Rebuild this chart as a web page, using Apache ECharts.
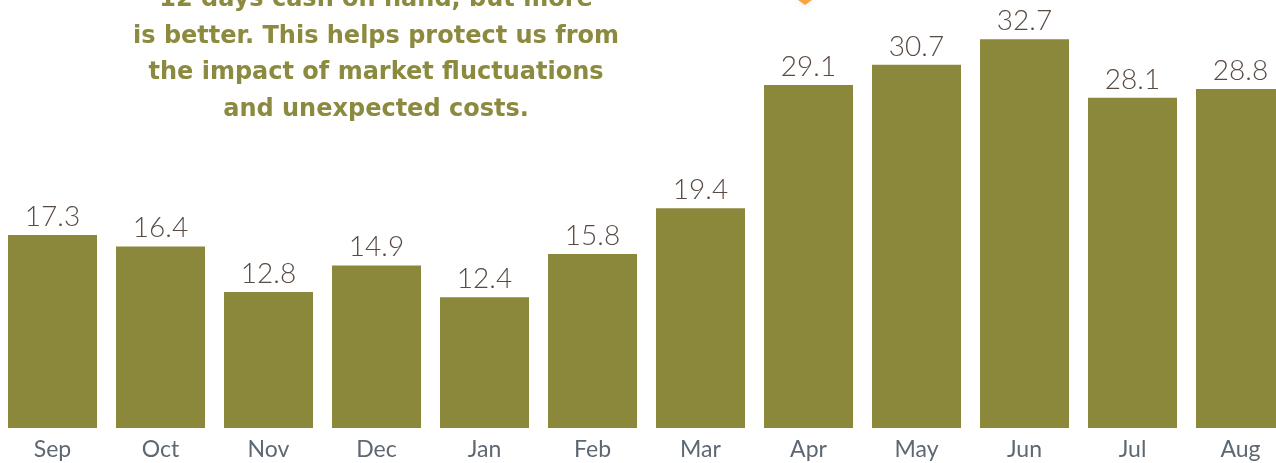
<!DOCTYPE html>
<html>
<head>
<meta charset="utf-8">
<script src="https://cdn.jsdelivr.net/npm/echarts@6/dist/echarts.min.js"></script>
<style>
html,body{margin:0;padding:0;background:#fff;}
#chart{width:1276px;height:463px;}
</style>
</head>
<body>
<div id="chart"></div>
<script>
const months = ['Sep','Oct','Nov','Dec','Jan','Feb','Mar','Apr','May','Jun','Jul','Aug'];
const daysCash = [17.3,16.4,12.8,14.9,12.4,15.8,19.4,29.1,30.7,32.7,28.1,28.8];
const noteLines = [
  '12 days cash on hand, but more',
  'is better. This helps protect us from',
  'the impact of market fluctuations',
  'and unexpected costs.'
];

const chart = echarts.init(document.getElementById('chart'));
chart.setOption({
  animation: false,
  backgroundColor: '#ffffff',
  grid: { left: -1.5, width: 1296, top: 0, bottom: 35, containLabel: false, outerBoundsMode: 'none' },
  xAxis: {
    type: 'category',
    data: months,
    axisLine: { show: false },
    axisTick: { show: false },
    axisLabel: {
      color: '#5d6872',
      fontFamily: 'Lato',
      fontSize: 23,
      margin: 10
    }
  },
  yAxis: {
    type: 'value',
    min: 2.1,
    max: 35.8,
    show: false,
    splitLine: { show: false }
  },
  series: [{
    type: 'bar',
    data: daysCash,
    barWidth: 89,
    clip: true,
    itemStyle: { color: '#8b883c' },
    label: {
      show: true,
      position: 'top',
      distance: 4,
      color: '#594a42',
      fontFamily: 'Lato',
      fontWeight: 300,
      fontSize: 28,
      formatter: p => p.value.toFixed(1)
    }
  }],
  graphic: [
    {
      type: 'text',
      x: 376,
      y: -18,
      style: {
        text: noteLines.join('\n'),
        align: 'center',
        verticalAlign: 'top',
        fill: '#8b8a3e',
        font: 'bold 24px "DejaVu Sans"',
        lineHeight: 36.5
      }
    },
    {
      type: 'polygon',
      shape: { points: [[798, 0], [812, 0], [805, 5]] },
      style: { fill: '#f6a63c', shadowBlur: 8, shadowColor: 'rgba(0,0,0,0.18)' }
    }
  ]
});
</script>
</body>
</html>
